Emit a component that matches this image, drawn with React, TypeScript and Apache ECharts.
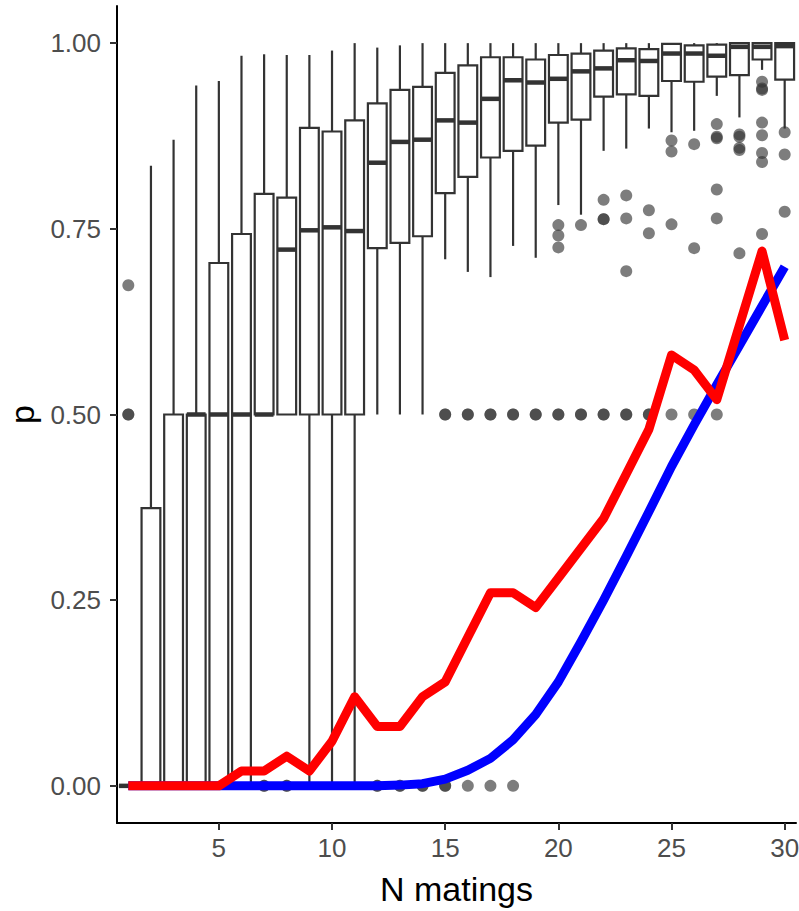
import React, { useEffect, useRef } from "react";
import * as echarts from "echarts";

const categories = Array.from({ length: 30 }, (_, i) => String(i + 1));

const lowerWhisker = [0, 0, 0, 0, 0, 0, 0.5, 0.5, 0, 0, 0, 0.5, 0.5, 0.5, 0.709, 0.692, 0.685, 0.727, 0.711, 0.782, 0.769, 0.855, 0.858, 0.885, 0.88, 0.882, 0.929, 0.9, 0.964, 0.885];
const q1 = [0, 0, 0, 0, 0, 0, 0.5, 0.5, 0.5, 0.5, 0.5, 0.724, 0.731, 0.74, 0.798, 0.82, 0.846, 0.855, 0.862, 0.893, 0.897, 0.928, 0.931, 0.929, 0.949, 0.948, 0.955, 0.957, 0.978, 0.951];
const median = [0, 0, 0, 0.5, 0.5, 0.5, 0.5, 0.722, 0.748, 0.752, 0.747, 0.839, 0.867, 0.87, 0.896, 0.893, 0.925, 0.95, 0.947, 0.952, 0.962, 0.966, 0.977, 0.976, 0.986, 0.986, 0.983, 0.995, 0.995, 0.996];
const q3 = [0, 0.374, 0.5, 0.5, 0.704, 0.743, 0.797, 0.792, 0.886, 0.881, 0.896, 0.919, 0.937, 0.941, 0.96, 0.97, 0.981, 0.981, 0.978, 0.984, 0.986, 0.99, 0.993, 0.992, 0.999, 0.997, 0.998, 1, 1, 1];
const upperWhisker = [0, 0.835, 0.87, 0.943, 0.949, 0.983, 0.985, 0.984, 0.984, 0.99, 1, 0.994, 0.997, 1, 1, 1, 1, 1, 1, 1, 1, 1, 1, 1, 1, 1, 1, 1, 1, 1];

// outliers as [N matings, p]
const outliers: [number, number][] = [
  [1, 0.5], [1, 0.5], [1, 0.674],
  [7, 0], [7, 0], [8, 0], [8, 0],
  [12, 0], [12, 0], [13, 0], [13, 0], [14, 0], [14, 0], [15, 0], [15, 0],
  [16, 0], [17, 0], [18, 0],
  [15, 0.5], [15, 0.5], [16, 0.5], [16, 0.5], [17, 0.5], [17, 0.5], [18, 0.5], [18, 0.5],
  [19, 0.5], [19, 0.5], [20, 0.5], [20, 0.5], [21, 0.5], [21, 0.5], [22, 0.5], [22, 0.5],
  [23, 0.5], [23, 0.5], [24, 0.5], [24, 0.5], [25, 0.5], [26, 0.5], [27, 0.5],
  [20, 0.755], [20, 0.741], [20, 0.725],
  [21, 0.755],
  [22, 0.789], [22, 0.763], [22, 0.763],
  [23, 0.795], [23, 0.764], [23, 0.693],
  [24, 0.775], [24, 0.744],
  [25, 0.869], [25, 0.854], [25, 0.756],
  [26, 0.864], [26, 0.724],
  [27, 0.891], [27, 0.874], [27, 0.872], [27, 0.803], [27, 0.764],
  [28, 0.877], [28, 0.874], [28, 0.859], [28, 0.856], [28, 0.717],
  [29, 0.948], [29, 0.939], [29, 0.937], [29, 0.893], [29, 0.876], [29, 0.852], [29, 0.84], [29, 0.743],
  [30, 0.88], [30, 0.85], [30, 0.773],
];

const redLine = [0, 0, 0, 0, 0, 0.02, 0.02, 0.04, 0.02, 0.06, 0.12, 0.08, 0.08, 0.12, 0.14, 0.2, 0.26, 0.26, 0.24, 0.28, 0.32, 0.36, 0.42, 0.48, 0.58, 0.56, 0.52, 0.62, 0.72, 0.6];
const blueLine = [0, 0, 0, 0, 0, 0, 0, 0, 0, 0, 0, 0, 0.001, 0.003, 0.009, 0.021, 0.037, 0.062, 0.096, 0.14, 0.194, 0.25, 0.309, 0.369, 0.43, 0.486, 0.54, 0.593, 0.646, 0.699];

const yTicks = [0, 0.25, 0.5, 0.75, 1];

const FONT = "Liberation Sans, Arial, sans-serif";

export default function App() {
  const ref = useRef<HTMLDivElement>(null);

  useEffect(() => {
    if (!ref.current) return;
    const chart = echarts.init(ref.current, undefined, { renderer: "svg" });

    const boxData = categories.map((_, i) => [i, lowerWhisker[i], q1[i], median[i], q3[i], upperWhisker[i]]);
    const labelEvery = (_idx: number, value: string) => Number(value) % 5 === 0;

    chart.setOption({
      animation: false,
      backgroundColor: "#ffffff",
      grid: { left: 117, right: 3, top: 6, bottom: 88, containLabel: false, outerBoundsMode: "none" },
      xAxis: {
        type: "category",
        data: categories,
        boundaryGap: true,
        name: "N matings",
        nameLocation: "middle",
        nameGap: 49,
        nameTextStyle: { color: "#000000", fontSize: 34, fontFamily: FONT },
        axisLine: { show: true, onZero: false, lineStyle: { color: "#000000", width: 2 } },
        axisTick: { show: true, interval: labelEvery, alignWithLabel: true, length: 7, lineStyle: { color: "#333333", width: 2 } },
        axisLabel: { show: true, interval: labelEvery, color: "#4d4d4d", fontSize: 26, fontFamily: FONT, margin: 12 },
        splitLine: { show: false },
      },
      yAxis: {
        type: "value",
        min: -0.05,
        max: 1.05,
        name: "p",
        nameLocation: "middle",
        nameGap: 77,
        nameRotate: 90,
        nameTextStyle: { color: "#000000", fontSize: 34, fontFamily: FONT },
        axisLine: { show: true, onZero: false, lineStyle: { color: "#000000", width: 2 } },
        axisTick: { show: true, customValues: yTicks, length: 7, lineStyle: { color: "#333333", width: 2 } },
        axisLabel: {
          show: true,
          customValues: yTicks,
          color: "#4d4d4d",
          fontSize: 26,
          fontFamily: FONT,
          margin: 16,
          formatter: (v: number) => v.toFixed(2),
        },
        splitLine: { show: false },
      },
      series: [
        {
          type: "custom",
          z: 2,
          silent: true,
          data: boxData,
          encode: { x: 0, y: [1, 2, 3, 4, 5] },
          renderItem: (_params: any, api: any) => {
            const idx = api.value(0);
            const pLW = api.coord([idx, api.value(1)]);
            const pQ1 = api.coord([idx, api.value(2)]);
            const pMed = api.coord([idx, api.value(3)]);
            const pQ3 = api.coord([idx, api.value(4)]);
            const pUW = api.coord([idx, api.value(5)]);
            const w = api.size([1, 0])[0] * 0.83;
            const x = pQ1[0];
            const stroke = { stroke: "#333333", lineWidth: 2.2 };
            return {
              type: "group",
              children: [
                { type: "line", shape: { x1: x, y1: pQ3[1], x2: x, y2: pUW[1] }, style: stroke },
                { type: "line", shape: { x1: x, y1: pQ1[1], x2: x, y2: pLW[1] }, style: stroke },
                {
                  type: "rect",
                  shape: { x: x - w / 2, y: pQ3[1], width: w, height: pQ1[1] - pQ3[1] },
                  style: { fill: "#ffffff", stroke: "#333333", lineWidth: 2.2 },
                },
                {
                  type: "line",
                  shape: { x1: x - w / 2, y1: pMed[1], x2: x + w / 2, y2: pMed[1] },
                  style: { stroke: "#333333", lineWidth: 4.5, lineCap: "butt" },
                },
              ],
            };
          },
        },
        {
          type: "scatter",
          z: 3,
          silent: true,
          symbol: "circle",
          symbolSize: 12,
          itemStyle: { color: "rgba(51,51,51,0.8)" },
          data: outliers.map(([c, v]) => [c - 1, v]),
        },
        {
          type: "line",
          z: 4,
          silent: true,
          showSymbol: false,
          symbol: "none",
          data: blueLine,
          lineStyle: { color: "#0000ff", width: 9, cap: "butt", join: "round" },
        },
        {
          type: "line",
          z: 5,
          silent: true,
          showSymbol: false,
          symbol: "none",
          data: redLine,
          lineStyle: { color: "#ff0000", width: 9, cap: "butt", join: "round" },
        },
      ],
    });

    return () => {
      chart.dispose();
    };
  }, []);

  return (
    <div
      ref={ref}
      style={{ position: "absolute", left: 0, top: 0, width: 799, height: 911, background: "#ffffff" }}
    />
  );
}
